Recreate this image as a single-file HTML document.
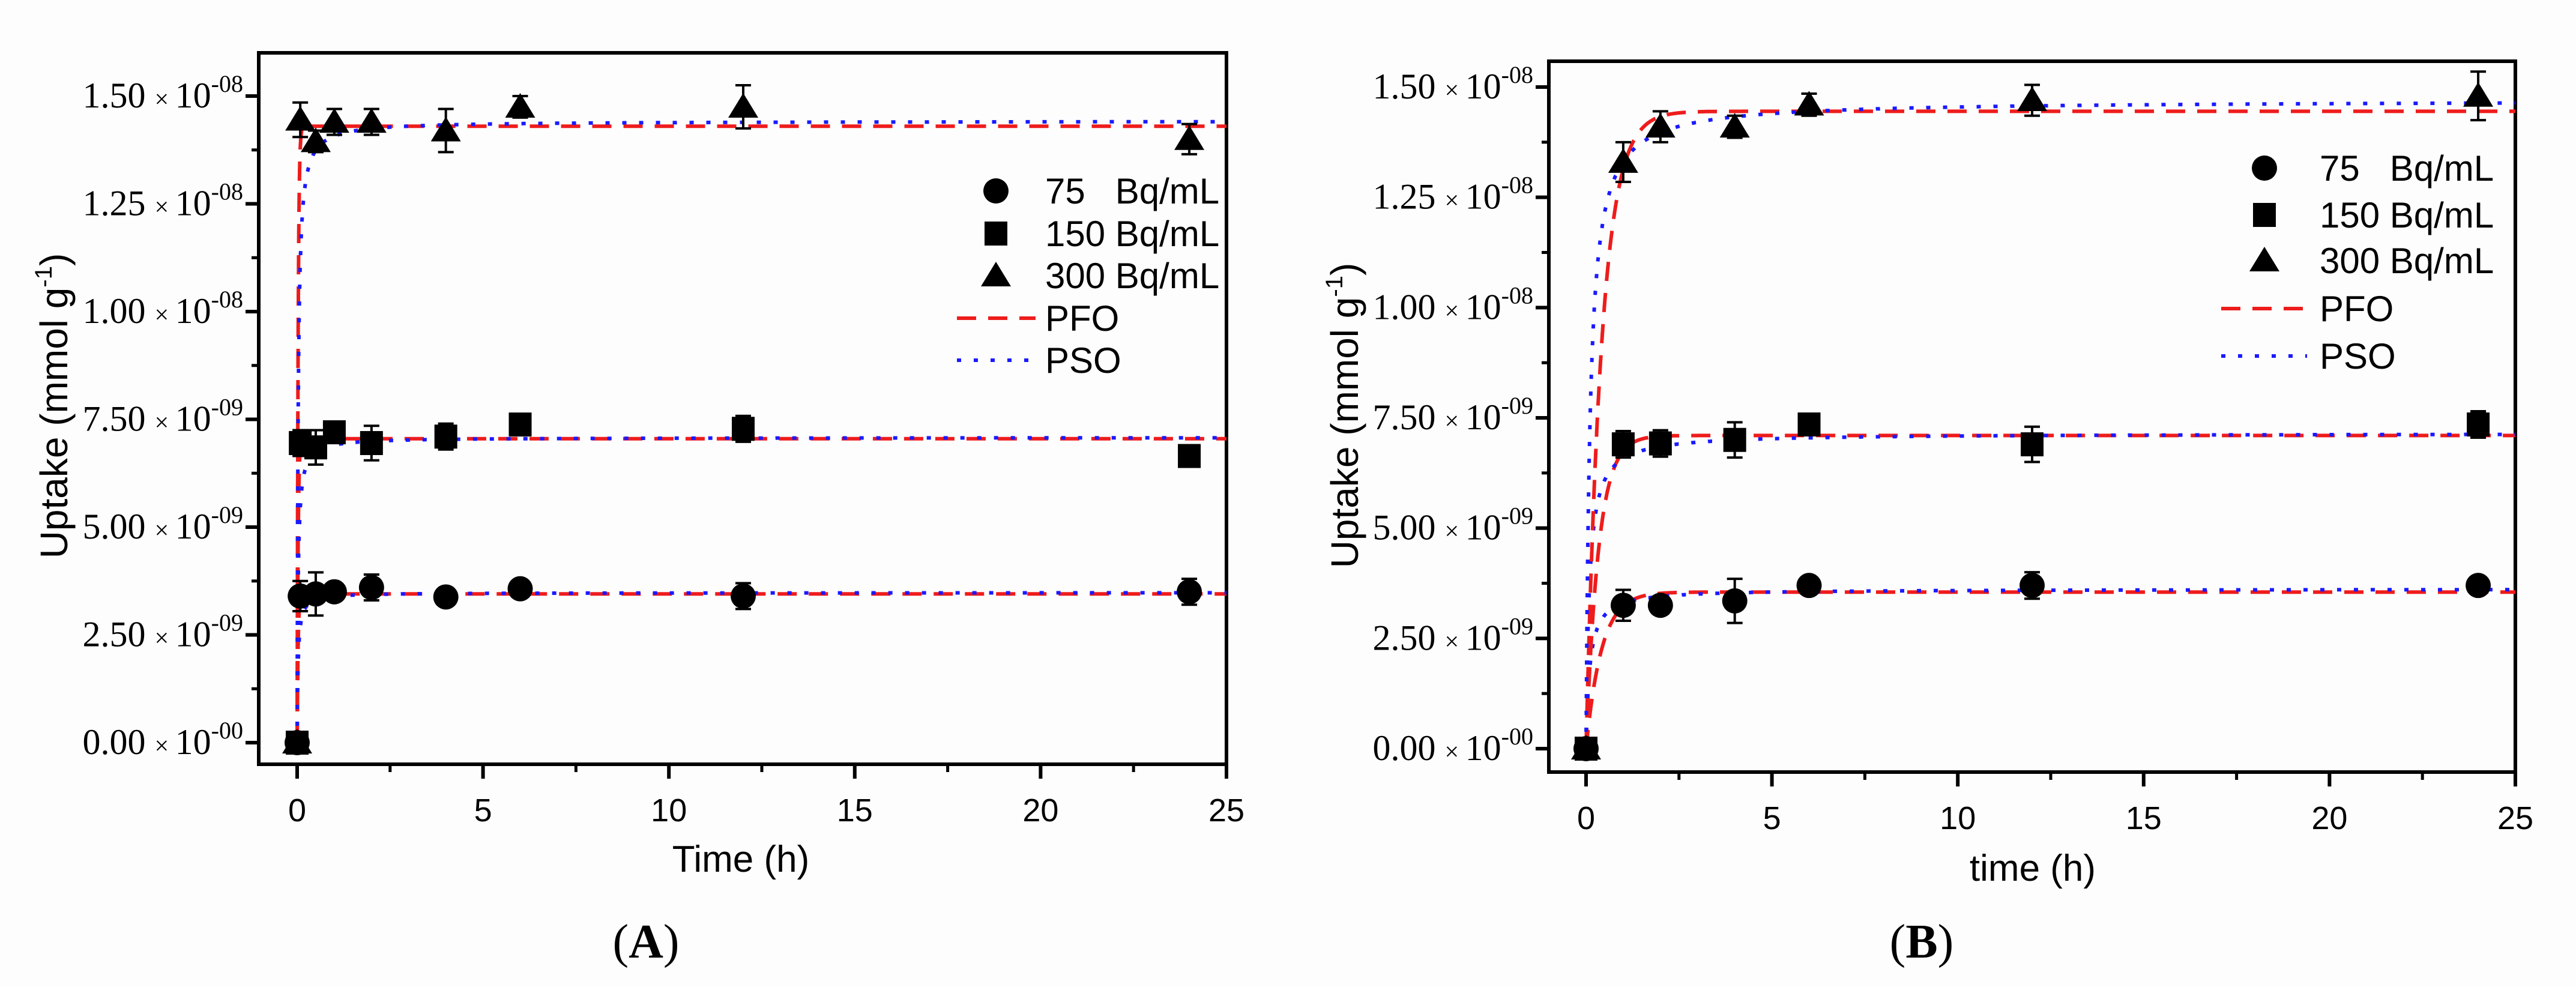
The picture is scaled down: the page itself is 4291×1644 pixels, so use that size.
<!DOCTYPE html>
<html><head><meta charset="utf-8">
<style>
html,body{margin:0;padding:0;background:#fff;}
svg{display:block;}
.serif{font-family:"Liberation Serif",serif;}
.sans{font-family:"Liberation Sans",sans-serif;}
</style></head>
<body>
<svg id="chart" width="4291" height="1644" viewBox="0 0 4291 1644" xmlns="http://www.w3.org/2000/svg">
<rect x="0" y="0" width="4291" height="1644" fill="#fdfdfd"/>
</svg>
<script>
// ---------- Panel A data (uptake in 1e-9 mmol/g) ----------
const timesA = [0, 0.083, 0.5, 1, 2, 4, 6, 12, 24];
const a75 = [0, 3.40, 3.45, 3.50, 3.60, 3.38, 3.57, 3.40, 3.50];
const a75err = [0.05, 0.35, 0.50, 0.15, 0.30, 0.15, 0.12, 0.30, 0.30];
const a150 = [0, 6.95, 6.85, 7.20, 6.95, 7.10, 7.38, 7.28, 6.65];
const a150err = [0.05, 0.30, 0.40, 0.15, 0.40, 0.30, 0.15, 0.30, 0.15];
const a300 = [0, 14.45, 13.95, 14.40, 14.40, 14.20, 14.75, 14.75, 14.00];
const a300err = [0.05, 0.40, 0.25, 0.30, 0.30, 0.50, 0.25, 0.50, 0.35];
const aPFOqe = [3.45, 7.05, 14.30];
const aPFOk = [40, 40, 40];
const aPSOqe = [3.48, 7.08, 14.42];
const aPSOk = [11.5, 5.6, 2.8];
// ---------- Panel B data ----------
const timesB = [0, 1, 2, 4, 6, 12, 24];
const b75 = [0, 3.25, 3.25, 3.35, 3.70, 3.70, 3.70];
const b75err = [0.05, 0.35, 0.12, 0.50, 0.12, 0.30, 0.20];
const b150 = [0, 6.90, 6.92, 7.00, 7.35, 6.90, 7.35];
const b150err = [0.05, 0.30, 0.30, 0.40, 0.12, 0.40, 0.30];
const b300 = [0, 13.30, 14.10, 14.10, 14.60, 14.70, 14.80];
const b300err = [0.05, 0.45, 0.35, 0.25, 0.25, 0.35, 0.55];
const bPFOqe = [3.55, 7.10, 14.45];
const bPFOk = [2.4, 3.0, 2.4];
const bPSOqe = [3.62, 7.15, 14.70];
const bPSOk = [2.8, 1.6, 0.65];
// ---------- Axis ticks ----------
const yTickVals = [0, 2.5, 5.0, 7.5, 10.0, 12.5, 15.0];
const yTickMant = ["0.00", "2.50", "5.00", "7.50", "1.00", "1.25", "1.50"];
const yTickExp = ["-00", "-09", "-09", "-09", "-08", "-08", "-08"];
const xTickVals = [0, 5, 10, 15, 20, 25];
const legendLabels = ["75\u00a0\u00a0\u00a0Bq/mL", "150 Bq/mL", "300 Bq/mL", "PFO", "PSO"];

const NS = "http://www.w3.org/2000/svg";
const svg = document.getElementById("chart");
function mk(tag, attrs, parent) {
  const e = document.createElementNS(NS, tag);
  for (const k in attrs) e.setAttribute(k, attrs[k]);
  (parent || svg).appendChild(e);
  return e;
}

function drawPanel(p) {
  const g = mk("g", {});
  
  
  const xs = v => p.x0 + (v - 0) / 25 * (p.x25 - p.x0);
  const ys = v => p.y0 - v / 15 * (p.y0 - p.y15);
  const frame = mk("rect", {x: p.left, y: p.top, width: p.right - p.left, height: p.bottom - p.top, fill: "none", stroke: "#000", "stroke-width": 6}, g);
  
  
  for (let i = 0; i < yTickVals.length; i++) {
    const y = ys(yTickVals[i]);
    const t = mk("line", {x1: p.left - 22, x2: p.left, y1: y, y2: y, stroke: "#000", "stroke-width": 6}, g);
    
    
    if (i < yTickVals.length - 1) {
      const ym = ys(yTickVals[i] + 1.25);
      const m = mk("line", {x1: p.left - 12, x2: p.left, y1: ym, y2: ym, stroke: "#000", "stroke-width": 5}, g);
      
      
    }
    const tx = mk("text", {x: p.left - 26, y: y + 19, "text-anchor": "end", "font-size": 60, class: "serif", fill: "#000"}, g);
    
    
    const s1 = mk("tspan", {}, tx); s1.textContent = yTickMant[i] + " ";
    const s2 = mk("tspan", {"font-size": 42}, tx); s2.textContent = "× ";
    const s3 = mk("tspan", {}, tx); s3.textContent = "10";
    const s4 = mk("tspan", {"font-size": 40, dy: -26}, tx); s4.textContent = yTickExp[i];
  }
  for (let i = 0; i < xTickVals.length; i++) {
    const x = xs(xTickVals[i]);
    const t = mk("line", {x1: x, x2: x, y1: p.bottom, y2: p.bottom + 24, stroke: "#000", "stroke-width": 6}, g);
    
    
    if (i < xTickVals.length - 1) {
      const xm = xs(xTickVals[i] + 2.5);
      const m = mk("line", {x1: xm, x2: xm, y1: p.bottom, y2: p.bottom + 13, stroke: "#000", "stroke-width": 5}, g);
      
      
    }
    const tx = mk("text", {x: x, y: p.bottom + 95, "text-anchor": "middle", "font-size": 54, class: "sans", fill: "#000"}, g);
    
    
    tx.textContent = String(xTickVals[i]);
  }
  const xt = mk("text", {x: p.xTitleX, y: p.xTitleY, "text-anchor": "middle", "font-size": 62, class: "sans", fill: "#000"}, g);
  
  
  xt.textContent = p.xTitle;
  const yt = mk("text", {x: 0, y: 0, "text-anchor": "middle", "font-size": 64, class: "sans", fill: "#000", transform: "translate(" + p.yTitleX + "," + p.yTitleY + ") rotate(-90)"}, g);
  
  
  const y1 = mk("tspan", {}, yt); y1.textContent = "Uptake (mmol g";
  const y2 = mk("tspan", {"font-size": 40, dy: -26}, yt); y2.textContent = "-1";
  const y3 = mk("tspan", {dy: 26}, yt); y3.textContent = ")";
  const cap = mk("text", {x: p.capX, y: 1595, "text-anchor": "middle", "font-size": 80, class: "serif", fill: "#000"}, g);
  
  
  const c1 = mk("tspan", {}, cap); c1.textContent = "(";
  const c2 = mk("tspan", {"font-weight": "bold"}, cap); c2.textContent = p.cap;
  const c3 = mk("tspan", {}, cap); c3.textContent = ")";

  const clip = "clip-" + p.name;
  const cp = mk("clipPath", {id: clip}, g);
  mk("rect", {x: p.left, y: p.top, width: p.right - p.left, height: p.bottom - p.top}, cp);
  function curve(fn, qe, k, color, dash, name) {
    let d = "";
    for (let i = 0; i <= 1500; i++) {
      const t = 25 * Math.pow(i / 1500, 2.5);
      const q = fn(t, qe, k);
      d += (i ? "L" : "M") + xs(t).toFixed(1) + "," + ys(q).toFixed(1);
    }
    const pth = mk("path", {d: d, fill: "none", stroke: color, "stroke-width": 6, "stroke-dasharray": dash, "clip-path": "url(#" + clip + ")"}, g);
    
    
  }
  const pfo = (t, qe, k) => qe * (1 - Math.exp(-k * t));
  const pso = (t, qe, k) => qe * qe * k * t / (1 + qe * k * t);
  for (let s = 0; s < 3; s++) {
    curve(pfo, p.pfoQe[s], p.pfoK[s], "#ee1c1c", "32 20", "pfo-fit-line");
    curve(pso, p.psoQe[s], p.psoK[s], "#1a1aff", "7 21", "pso-fit-line");
  }
  function marker(kind, cx, cy, parent) {
    let e;
    if (kind === 0) e = mk("circle", {cx: cx, cy: cy, r: 21, fill: "#000"}, parent);
    else if (kind === 1) e = mk("rect", {x: cx - 19, y: cy - 20, width: 38, height: 40, fill: "#000"}, parent);
    else e = mk("polygon", {points: (cx) + "," + (cy - 23) + " " + (cx - 25) + "," + (cy + 18) + " " + (cx + 25) + "," + (cy + 18), fill: "#000"}, parent);
    return e;
  }
  const names = ["point-75", "point-150", "point-300"];
  for (let s = 0; s < 3; s++) {
    const vals = p.series[s], errs = p.errs[s];
    for (let i = 0; i < p.times.length; i++) {
      const cx = xs(p.times[i]), cy = ys(vals[i]);
      const ey1 = ys(vals[i] + errs[i]), ey2 = ys(vals[i] - errs[i]);
      const eb = mk("path", {d: "M" + cx + "," + ey1 + "V" + ey2 + "M" + (cx - 13) + "," + ey1 + "H" + (cx + 13) + "M" + (cx - 13) + "," + ey2 + "H" + (cx + 13), stroke: "#000", "stroke-width": 4, fill: "none"}, g);
      
      
      const m = marker(s, cx, cy, g);
      
      
    }
  }
  const lg = mk("g", {}, g);
  
  
  for (let i = 0; i < 5; i++) {
    const y = p.legY[i];
    if (i < 3) {
      const m = marker(i, p.legMarkX, y, lg);
      
      
    } else {
      const ln = mk("line", {x1: p.legLine[0], x2: p.legLine[1], y1: y, y2: y, stroke: i === 3 ? "#ee1c1c" : "#1a1aff", "stroke-width": 6, "stroke-dasharray": i === 3 ? "32 20" : "7 21"}, lg);
      
      
    }
    const tx = mk("text", {x: p.legTextX, y: y + 21, "font-size": 60, class: "sans", fill: "#000"}, lg);
    
    
    tx.textContent = legendLabels[i];
  }
}

drawPanel({
  name: "panel-a", left: 431, right: 2043, top: 88, bottom: 1273,
  x0: 495, x25: 2043, y0: 1237, y15: 160,
  xTitle: "Time (h)", xTitleX: 1234, xTitleY: 1452, yTitleX: 112, yTitleY: 676,
  cap: "A", capX: 1076,
  times: timesA, series: [a75, a150, a300], errs: [a75err, a150err, a300err],
  pfoQe: aPFOqe, pfoK: aPFOk, psoQe: aPSOqe, psoK: aPSOk,
  legY: [318, 389, 459, 530, 600], legMarkX: 1659, legTextX: 1741, legLine: [1594, 1725]
});
drawPanel({
  name: "panel-b", left: 2580, right: 4190, top: 102, bottom: 1286,
  x0: 2642, x25: 4190, y0: 1247, y15: 145,
  xTitle: "time (h)", xTitleX: 3386, xTitleY: 1467, yTitleX: 2262, yTitleY: 692,
  cap: "B", capX: 3201,
  times: timesB, series: [b75, b150, b300], errs: [b75err, b150err, b300err],
  pfoQe: bPFOqe, pfoK: bPFOk, psoQe: bPSOqe, psoK: bPSOk,
  legY: [280, 358, 434, 514, 593], legMarkX: 3772, legTextX: 3864, legLine: [3700, 3843]
});
</script>
</body></html>
